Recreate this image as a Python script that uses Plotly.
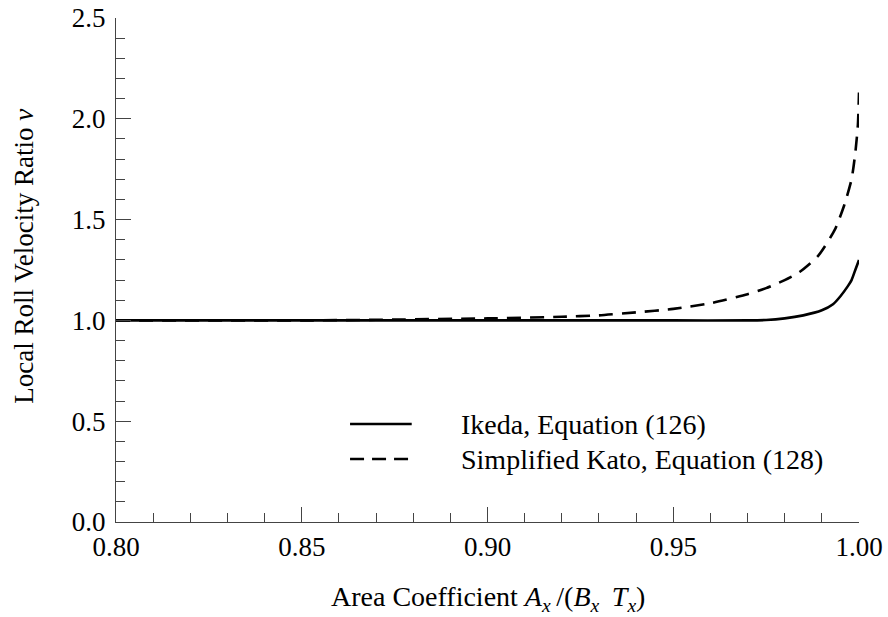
import plotly.graph_objects as go

# Ikeda, Equation (126)
ikeda_x = [0.80, 0.85, 0.90, 0.95, 0.97, 0.975, 0.98, 0.985, 0.99, 0.993, 0.995, 0.997, 0.998, 0.999, 1.000]
ikeda_y = [1.00, 1.00, 1.00, 1.00, 1.00, 1.002, 1.01, 1.025, 1.05, 1.08, 1.12, 1.17, 1.20, 1.25, 1.30]

# Simplified Kato, Equation (128)
kato_x = [0.80, 0.85, 0.87, 0.90, 0.92, 0.93, 0.94, 0.95, 0.96, 0.97, 0.975, 0.98, 0.984, 0.989,
          0.9935, 0.996, 0.998, 0.999, 0.9997, 1.000]
kato_y = [1.00, 1.00, 1.003, 1.01, 1.018, 1.025, 1.04, 1.057, 1.085, 1.13, 1.16, 1.20, 1.24, 1.32,
          1.45, 1.57, 1.70, 1.83, 1.97, 2.13]

names = ["Ikeda, Equation (126)", "Simplified Kato, Equation (128)"]
dashes = ["solid", "14px,9px"]

FONT = "Liberation Serif, Times New Roman, serif"
AXC = "#444"

fig = go.Figure()
for xs, ys, nm, ds in [(ikeda_x, ikeda_y, names[0], dashes[0]), (kato_x, kato_y, names[1], dashes[1])]:
    fig.add_trace(go.Scatter(x=xs, y=ys, mode="lines", name=nm, showlegend=False,
                             line=dict(color="black", width=2.6, dash=ds, shape="spline", smoothing=0.6)))

axis_common = dict(
    showline=True, linecolor=AXC, linewidth=1.3, mirror=False,
    ticks="inside", ticklen=15, tickwidth=1.3, tickcolor=AXC,
    showgrid=False, zeroline=False, automargin=False,
    tickfont=dict(family=FONT, size=27, color="black"),
)

fig.update_xaxes(range=[0.80, 1.00], tick0=0.80, dtick=0.05, tickformat=".2f",
                 minor=dict(ticks="inside", ticklen=9, tickwidth=1.3, tickcolor=AXC, dtick=0.01),
                 **axis_common)
fig.update_yaxes(range=[0.0, 2.5], tick0=0.0, dtick=0.5, tickformat=".1f", ticklabelstandoff=4,
                 minor=dict(ticks="inside", ticklen=9, tickwidth=1.3, tickcolor=AXC, dtick=0.1),
                 **axis_common)

# axis titles
ts = "&#8201;"
fig.add_annotation(text=("Area Coefficient <i>A</i><sub><i>x</i></sub>" + ts + "/(<i>B</i><sub><i>x</i></sub>"
                         + ts + " <i>T</i><sub><i>x</i></sub>)"),
                   xref="paper", yref="paper", x=0.5, y=-0.151, xanchor="center", yanchor="middle",
                   showarrow=False, font=dict(family=FONT, size=28, color="black"))
fig.add_annotation(text="Local Roll Velocity Ratio <i>v</i>",
                   xref="paper", yref="paper", x=-0.124, y=0.528, xanchor="center", yanchor="middle",
                   showarrow=False, textangle=-90, font=dict(family=FONT, size=27, color="black"))

# legend (keys and labels)
leg_y = [0.1944, 0.125]
for nm, ds, ly in zip(names, dashes, leg_y):
    fig.add_shape(type="line", xref="paper", yref="paper", x0=0.315, x1=0.398, y0=ly, y1=ly,
                  line=dict(color="black", width=2.6, dash=("solid" if ds == "solid" else "14px,8px")))
    fig.add_annotation(text=nm, xref="paper", yref="paper", x=0.4616, y=ly, xanchor="left",
                       yanchor="middle", showarrow=False, font=dict(family=FONT, size=28, color="black"))

fig.update_layout(
    width=888, height=617,
    margin=dict(l=116, r=29, t=18, b=95),
    paper_bgcolor="white", plot_bgcolor="white",
    font=dict(family=FONT, size=27, color="black"),
    showlegend=False,
)

fig.write_html("out.html", config={"displayModeBar": False},
               post_script="document.body.style.margin='0px';document.body.style.overflow='hidden';")
